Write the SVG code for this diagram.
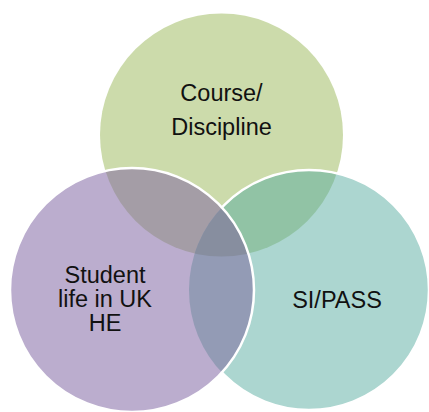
<svg xmlns="http://www.w3.org/2000/svg" width="429" height="412" viewBox="0 0 429 412">
  <style>
    .lbl { font-family: "Liberation Sans", Arial, sans-serif; font-size: 23.5px; fill: #111111; text-anchor: middle; }
  </style>
  <defs>
    <circle id="cTop" cx="221.5" cy="135" r="121.5"/>
    <circle id="cLeft" cx="132" cy="290" r="122"/>
    <circle id="cRight" cx="309" cy="290" r="120"/>
    <clipPath id="clipTop"><use href="#cTop"/></clipPath>
    <clipPath id="clipLeft"><use href="#cLeft"/></clipPath>
    <clipPath id="clipRight"><use href="#cRight"/></clipPath>
  </defs>
  <rect width="429" height="412" fill="#ffffff"/>

  <g id="node-course">
    <use href="#cTop" fill="#CCDBAB"/>
    <text class="lbl" x="221.5" y="101">Course/</text>
    <text class="lbl" x="221.5" y="135">Discipline</text>
  </g>

  <g id="node-sipass">
    <use href="#cRight" fill="#ACD6D0"/>
    <use href="#cRight" fill="#91C3A5" clip-path="url(#clipTop)"/>
    <use href="#cRight" fill="none" stroke="#ffffff" stroke-width="2.5"/>
    <text class="lbl" x="337" y="308">SI/PASS</text>
  </g>

  <g id="node-student">
    <use href="#cLeft" fill="#BBADCE"/>
    <use href="#cLeft" fill="#A49DA6" clip-path="url(#clipTop)"/>
    <use href="#cLeft" fill="#939BB5" clip-path="url(#clipRight)"/>
    <g clip-path="url(#clipTop)">
      <use href="#cLeft" fill="#878E9F" clip-path="url(#clipRight)"/>
    </g>
    <use href="#cLeft" fill="none" stroke="#ffffff" stroke-width="2.5"/>
    <text class="lbl" x="105" y="283">Student</text>
    <text class="lbl" x="105" y="307">life in UK</text>
    <text class="lbl" x="105" y="331">HE</text>
  </g>

  <g id="connectors"></g>
</svg>
